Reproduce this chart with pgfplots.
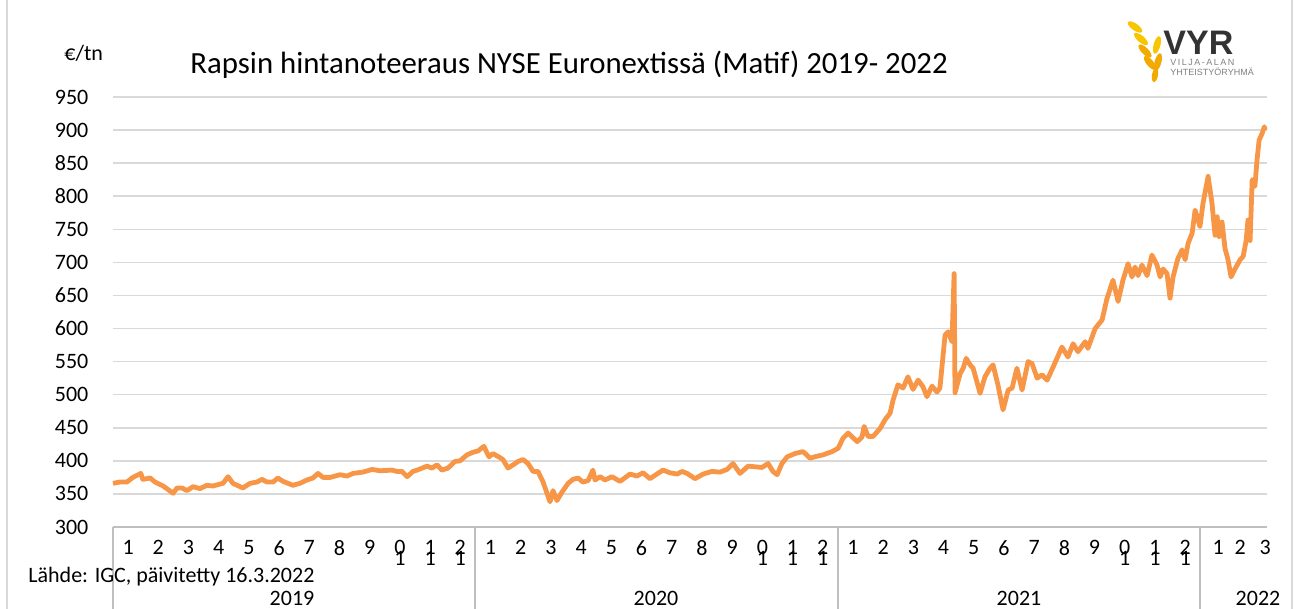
\documentclass[border=0pt]{standalone}
\usepackage{fontspec}
\setmainfont{Carlito}
\newfontfamily\logofont{Liberation Sans}
\usepackage{pgfplots}
\pgfplotsset{compat=1.18}
\definecolor{lineorange}{RGB}{247,150,70}
\definecolor{gridgray}{RGB}{217,217,217}
\definecolor{sepgray}{RGB}{191,191,191}
\definecolor{wheatA}{RGB}{247,198,0}
\definecolor{wheatB}{RGB}{242,169,0}
\definecolor{logogray}{RGB}{51,51,51}

\begin{document}
\begin{tikzpicture}
\begin{axis}[
  at={(56.5pt,41pt)}, anchor=south west,
  scale only axis, width=577pt, height=215pt,
  xmin=0, xmax=38.21, ymin=300, ymax=950,
  ytick={300,350,...,950},
  xtick={0.5,1.5,...,35.5,36.59,37.32,38.15},
  xticklabels={1,2,3,4,5,6,7,8,9,{0\\[-8pt]1},{1\\[-8pt]1},{2\\[-8pt]1},
               1,2,3,4,5,6,7,8,9,{0\\[-8pt]1},{1\\[-8pt]1},{2\\[-8pt]1},
               1,2,3,4,5,6,7,8,9,{0\\[-8pt]1},{1\\[-8pt]1},{2\\[-8pt]1},
               1,2,3},
  /pgf/number format/assume math mode=true,
  every tick label/.append style={font=\fontsize{11}{13.2}\selectfont, text=black},
  yticklabel style={xshift=-8.8pt},
  xticklabel style={yshift=-3.3pt, align=center},
  ymajorgrids, major grid style={gridgray, line width=0.75pt},
  axis line style={draw=none},
  major tick length=0pt, tick style={draw=none},
  clip=false,
]
\draw[sepgray, line width=0.75pt] (rel axis cs:0,0) -- (rel axis cs:1,0);
\addplot[lineorange, line width=2.4pt, line join=round] coordinates {
(0,366)(0.23,368)(0.46,368)(0.66,375)(0.92,381)(0.99,372)(1.23,374)(1.39,368)
(1.66,362)(1.99,351)(2.12,359)(2.28,359)(2.45,355)(2.65,361)(2.88,358)(3.11,363)
(3.31,362)(3.64,366)(3.81,376)(3.97,366)(4.30,359)(4.54,366)(4.77,368)(4.93,372)
(5.10,368)(5.30,368)(5.46,374)(5.63,369)(5.96,363)(6.19,366)(6.42,371)(6.62,374)
(6.79,381)(6.95,375)(7.19,375)(7.52,379)(7.75,377)(7.95,381)(8.28,383)(8.58,387)
(8.84,385)(9.24,386)(9.40,384)(9.57,384)(9.74,376)(9.93,384)(10.07,386)(10.40,392)
(10.56,389)(10.73,394)(10.89,386)(11.09,389)(11.32,399)(11.49,400)(11.72,409)(11.92,413)
(12.09,415)(12.28,422)(12.45,406)(12.58,411)(12.81,405)(12.91,402)(13.08,389)(13.25,394)
(13.41,399)(13.58,402)(13.74,396)(13.91,384)(14.07,384)(14.24,368)(14.47,338)(14.57,355)
(14.70,340)(14.87,353)(15.07,366)(15.23,372)(15.40,374)(15.56,368)(15.73,370)(15.89,386)
(15.96,371)(16.13,376)(16.29,371)(16.52,376)(16.79,369)(17.12,380)(17.35,377)(17.55,382)
(17.78,373)(18.01,380)(18.21,386)(18.44,382)(18.68,380)(18.84,384)(19.01,381)(19.27,373)
(19.54,380)(19.83,384)(20.10,383)(20.33,387)(20.53,396)(20.76,381)(21.03,392)(21.26,391)
(21.49,390)(21.69,396)(21.85,384)(21.99,379)(22.15,396)(22.32,406)(22.58,411)(22.85,414)
(23.08,404)(23.31,407)(23.51,409)(23.81,414)(24.01,419)(24.17,434)(24.34,442)(24.64,429)
(24.80,436)(24.87,452)(25.00,437)(25.17,437)(25.40,449)(25.56,462)(25.73,472)(25.83,492)
(25.99,515)(26.16,510)(26.32,527)(26.49,508)(26.66,522)(26.82,512)(26.95,497)(27.12,513)
(27.28,504)(27.38,510)(27.55,590)(27.65,595)(27.78,580)(27.85,683)(27.88,503)(28.05,532)
(28.15,540)(28.25,555)(28.38,545)(28.48,540)(28.71,502)(28.87,527)(29.04,540)(29.14,545)
(29.30,515)(29.47,477)(29.64,507)(29.77,510)(29.93,540)(30.10,507)(30.30,550)(30.43,547)
(30.60,525)(30.76,530)(30.93,522)(31.13,542)(31.42,572)(31.62,557)(31.79,577)(31.95,565)
(32.19,580)(32.28,570)(32.52,600)(32.75,613)(32.91,645)(33.11,673)(33.28,641)(33.44,673)
(33.61,698)(33.74,678)(33.84,693)(33.94,680)(34.07,696)(34.24,680)(34.40,711)(34.57,696)
(34.67,678)(34.77,690)(34.90,683)(35.00,646)(35.10,678)(35.26,706)(35.40,719)(35.50,704)
(35.60,729)(35.73,744)(35.83,779)(35.99,754)(36.09,789)(36.26,830)(36.39,789)(36.49,741)
(36.56,769)(36.62,739)(36.72,761)(36.82,721)(36.92,704)(37.02,678)(37.15,690)(37.32,704)
(37.42,709)(37.52,733)(37.58,764)(37.65,733)(37.72,825)(37.81,815)(37.88,855)(37.95,885)
(38.05,895)(38.12,905)(38.15,900)
};
\end{axis}
% year separators
\foreach \x in {56.5,237.5,419,600}{\draw[sepgray, line width=0.75pt] (\x pt,41pt) -- (\x pt,0pt);}
% chart border
\draw[gridgray, line width=0.75pt] (3.5pt,0pt) -- (3.5pt,304.5pt);
\draw[gridgray, line width=0.75pt] (646pt,0pt) -- (646pt,304.5pt);
% year labels
\begin{scope}[every node/.style={font=\fontsize{11}{13.2}\selectfont, anchor=base, inner sep=0pt}]
\node at (146pt,1.5pt) {2019};
\node at (328pt,1.5pt) {2020};
\node at (509.5pt,1.5pt) {2021};
\node at (629pt,1.5pt) {2022};
\end{scope}
% texts
\node[font=\fontsize{11}{13.2}\selectfont, anchor=base west, inner sep=0pt] at (14pt,13pt) {Lähde: IGC, päivitetty 16.3.2022};
\node[font=\fontsize{11}{13.2}\selectfont, anchor=base west, inner sep=0pt] at (32pt,274pt) {€/tn};
\node[font=\fontsize{15.4}{18}\selectfont, anchor=base west, inner sep=0pt] at (95pt,267.5pt) {Rapsin hintanoteeraus NYSE Euronextissä (Matif) 2019- 2022};
% logo
\fill[wheatA, rotate around={-35:(567.5pt,291pt)}] (567.5pt,291pt) ellipse (4.3pt and 1.7pt);
\fill[wheatA, rotate around={-40:(570.5pt,285pt)}] (570.5pt,285pt) ellipse (4.3pt and 1.7pt);
\fill[wheatB, rotate around={-45:(572.5pt,279pt)}] (572.5pt,279pt) ellipse (4.3pt and 1.7pt);
\fill[wheatB, rotate around={-50:(575pt,273pt)}] (575pt,273pt) ellipse (4.3pt and 1.7pt);
\fill[wheatA, rotate around={75:(578.5pt,282pt)}] (578.5pt,282pt) ellipse (4.5pt and 1.7pt);
\fill[wheatB, rotate around={75:(579pt,273.5pt)}] (579pt,273.5pt) ellipse (4.5pt and 1.7pt);
\fill[wheatB, rotate around={80:(577.5pt,267pt)}] (577.5pt,267pt) ellipse (3.6pt and 1.5pt);
\node[font=\logofont\bfseries\fontsize{17}{18}\selectfont, text=logogray, anchor=base west, inner sep=0pt] at (581.5pt,277pt) {VYR};
\node[font=\logofont\fontsize{4.5}{5}\selectfont, text=gray, anchor=base west, inner sep=0pt] at (585pt,271.5pt) {V\,I\,L\,J\,A\,-\,A\,L\,A\,N};
\node[font=\logofont\fontsize{4.5}{5}\selectfont, text=gray, anchor=base west, inner sep=0pt] at (585pt,266.5pt) {YHTEISTYÖRYHMÄ};
\pgfresetboundingbox
\path[use as bounding box] (0pt,0pt) rectangle (649pt,304.5pt);
\end{tikzpicture}
\end{document}
